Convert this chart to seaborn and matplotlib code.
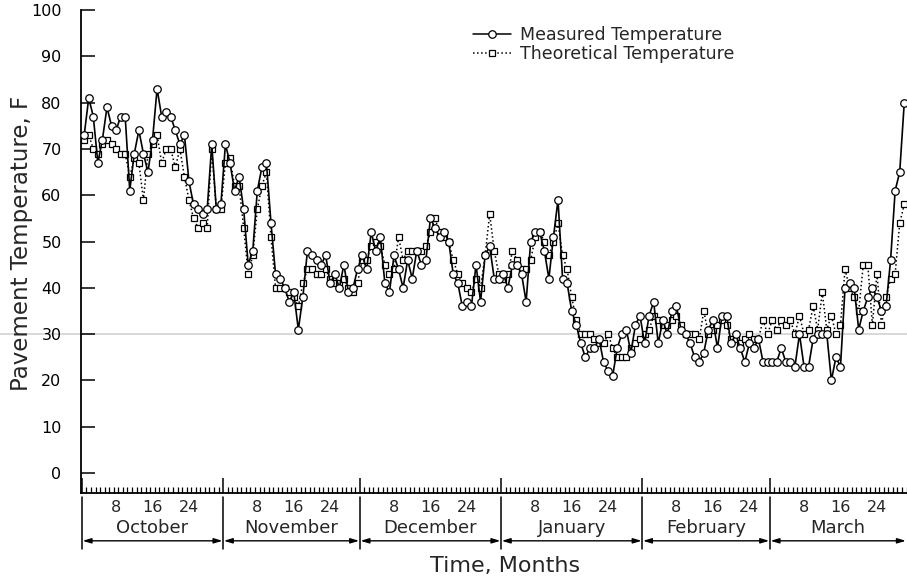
import numpy as np
import pandas as pd
import matplotlib
matplotlib.use("Agg")
import matplotlib.pyplot as plt
from matplotlib.lines import Line2D
import seaborn as sns

# ---------------- data (daily values, Oct 1 .. Mar 30) ----------------
months = ["October", "November", "December", "January", "February", "March"]
month_days = [31, 30, 31, 31, 28, 30]
day_labels = ["8", "16", "24"]
y_ticks = [0, 10, 20, 30, 40, 50, 60, 70, 80, 90, 100]

meas_oct = [73, 81, 77, 67, 72, 79, 75, 74, 77, 77, 61, 69, 74, 69, 65, 72, 83, 77, 78, 77,
            74, 71, 73, 63, 58, 57, 56, 57, 71, 57, 58]
meas_nov = [71, 67, 61, 64, 57, 45, 48, 61, 66, 67, 54, 43, 42, 40, 37, 39, 31, 38, 48, 47,
            46, 45, 47, 41, 43, 40, 45, 39, 40, 44]
meas_dec = [47, 44, 52, 48, 51, 41, 39, 47, 44, 40, 46, 42, 48, 45, 46, 55, 53, 51, 52, 50,
            43, 41, 36, 37, 36, 45, 37, 47, 49, 42, 42]
meas_jan = [43, 40, 45, 45, 43, 37, 50, 52, 52, 48, 42, 51, 59, 42, 41, 35, 32, 28, 25, 27,
            27, 29, 24, 22, 21, 27, 30, 31, 26, 32, 34]
meas_feb = [28, 34, 37, 28, 33, 30, 35, 36, 31, 30, 28, 25, 24, 26, 31, 33, 27, 34, 34, 28,
            30, 27, 24, 28, 27, 29, 24, 24]
meas_mar = [24, 24, 27, 24, 24, 23, 30, 23, 23, 29, 30, 30, 30, 20, 25, 23, 40, 41, 40, 31,
            35, 38, 40, 38, 35, 36, 46, 61, 65, 80]

theo_oct = [72, 73, 70, 69, 71, 72, 71, 70, 69, 69, 64, 68, 67, 59, 69, 71, 73, 67, 70, 70,
            66, 70, 64, 59, 55, 53, 54, 53, 70, 57, 57]
theo_nov = [67, 68, 62, 62, 53, 43, 47, 57, 62, 65, 51, 40, 40, 40, 39, 38, 36, 41, 44, 44,
            43, 43, 44, 42, 41, 41, 42, 40, 39, 41]
theo_dec = [46, 46, 49, 50, 49, 45, 43, 44, 51, 46, 48, 48, 48, 48, 49, 52, 55, 52, 51, 50,
            46, 43, 41, 40, 39, 42, 40, 47, 56, 48, 43]
theo_jan = [42, 43, 48, 46, 44, 44, 46, 51, 52, 50, 47, 50, 54, 47, 44, 38, 33, 30, 30, 30,
            29, 28, 28, 30, 27, 25, 25, 25, 27, 28, 29]
theo_feb = [30, 31, 34, 33, 32, 32, 33, 34, 32, 30, 30, 30, 29, 35, 30, 31, 32, 33, 32, 29,
            29, 28, 29, 30, 29, 29, 33, 30]
theo_mar = [33, 31, 33, 32, 33, 30, 34, 30, 31, 36, 31, 39, 31, 34, 30, 32, 44, 40, 38, 35,
            45, 45, 32, 43, 32, 38, 42, 43, 54, 58]

measured = meas_oct + meas_nov + meas_dec + meas_jan + meas_feb + meas_mar
theoretical = theo_oct + theo_nov + theo_dec + theo_jan + theo_feb + theo_mar
n = len(measured)
t = np.arange(n) + 0.5          # day centres, days since Oct 1
df = pd.DataFrame({"t": t, "Measured": measured, "Theoretical": theoretical})

# ---------------- figure ----------------
sns.set_style("white")
plt.rcParams["font.family"] = ["DejaVu Sans"]

W, H = 907, 580
fig = plt.figure(figsize=(W / 100, H / 100), dpi=100)
fig.patch.set_facecolor("white")
ax = fig.add_axes([81 / W, 1 - 493 / H, (907 - 81) / W, (493 - 10) / H])
ax.set_facecolor("none")

x_max = 181.1
ax.set_xlim(-0.2, x_max)
ax.set_ylim(-4.3, 100)

# scan artifact: faint horizontal line across the page
fig.add_artist(Line2D([0, 1], [1 - 334 / H, 1 - 334 / H], transform=fig.transFigure,
                      color="#d6d6d6", lw=1.3, zorder=0))

sns.lineplot(data=df, x="t", y="Theoretical", ax=ax, color="black", linestyle=":",
             linewidth=1.1, marker="s", markersize=4.6, markerfacecolor="white",
             markeredgecolor="black", markeredgewidth=0.9, zorder=3)
sns.lineplot(data=df, x="t", y="Measured", ax=ax, color="black", linestyle="-",
             linewidth=1.2, marker="o", markersize=5.4, markerfacecolor="white",
             markeredgecolor="black", markeredgewidth=0.9, zorder=4)

# spines
for s in ["top", "right"]:
    ax.spines[s].set_visible(False)
for s in ["left", "bottom"]:
    ax.spines[s].set_color("black")
    ax.spines[s].set_linewidth(1.3)

# y axis
ax.set_yticks(y_ticks)
ax.set_yticklabels([str(v) for v in y_ticks], fontsize=11.5)
ax.tick_params(axis="y", left=True, direction="in", length=10, width=1.1, pad=14,
               colors="black")
ax.set_ylabel("")
ax.set_xlabel("")

# x axis ticks: month boundaries (major) and days (minor)
bounds = np.concatenate([[0], np.cumsum(month_days)])
ax.set_xticks(bounds[:-1])
ax.set_xticklabels([])
ax.set_xticks(np.arange(0, int(x_max) + 1), minor=True)
ax.tick_params(axis="x", which="major", bottom=True, direction="in", length=11,
               width=1.1, colors="black")
ax.tick_params(axis="x", which="minor", bottom=True, direction="in", length=4,
               width=0.9, colors="black")

trans = ax.get_xaxis_transform()
y_day = -0.029
y_month = -0.072
y_arrow = -0.099
for i, m in enumerate(months):
    b0 = bounds[i]
    b1 = min(bounds[i + 1], x_max)
    ax.plot([b0, b0], [-0.008, -0.115], transform=trans, color="black", lw=1.1,
            clip_on=False)
    for lab in day_labels:
        ax.text(b0 + int(lab) - 0.5, y_day, lab, transform=trans, ha="center", va="center",
                fontsize=11.5)
    ax.text((b0 + b1) / 2, y_month, m, transform=trans, ha="center", va="center",
            fontsize=13)
    ax.annotate("", xy=(b1 - 0.15, y_arrow), xytext=(b0 + 0.15, y_arrow),
                xycoords=trans, textcoords=trans, annotation_clip=False,
                arrowprops=dict(arrowstyle="<|-|>,head_length=0.5,head_width=0.15",
                                color="black", lw=1.0, shrinkA=0, shrinkB=0,
                                mutation_scale=10))

fig.text(505 / W, 1 - 566 / H, "Time, Months", ha="center", va="center", fontsize=16)
fig.text(22 / W, 1 - 243 / H, "Pavement Temperature, F", ha="center", va="center",
         rotation=90, fontsize=16.5)

handles = [
    Line2D([], [], color="black", ls="-", lw=1.1, marker="o", markersize=5.4,
           markerfacecolor="white", markeredgecolor="black", markeredgewidth=0.9),
    Line2D([], [], color="black", ls=":", lw=1.1, marker="s", markersize=4.6,
           markerfacecolor="white", markeredgecolor="black", markeredgewidth=0.9),
]
fig.legend(handles, ["Measured Temperature", "Theoretical Temperature"],
           loc="upper left", bbox_to_anchor=(466 / W, 1 - 19 / H), frameon=False,
           fontsize=12.5, handlelength=2.2, handletextpad=0.5, labelspacing=0.05,
           borderaxespad=0)

fig.savefig("out.png", dpi=100, facecolor="white")
